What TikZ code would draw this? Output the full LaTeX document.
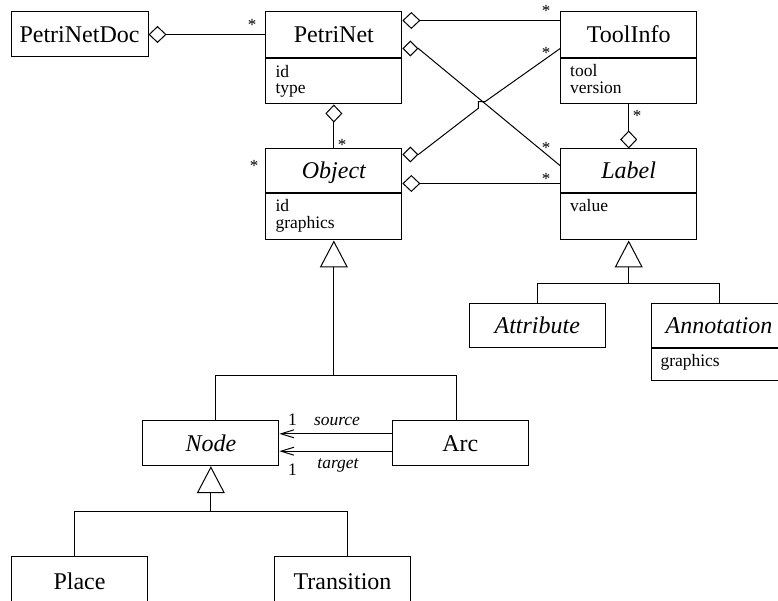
\documentclass[tikz,border=0pt]{standalone}
\usepackage{fontspec}
\setmainfont{Liberation Serif}
\usetikzlibrary{arrows.meta,calc}
\begin{document}
\begin{tikzpicture}[x=1pt,y=-1pt,line width=1pt,
  cls/.style={draw, inner sep=0pt, font=\fontsize{24}{28}\selectfont, text height=16pt, text depth=0pt, minimum width=136pt, minimum height=45pt},
  clsi/.style={cls, font=\fontsize{24}{28}\selectfont\itshape},
  comp/.style={draw, inner sep=0pt, minimum width=136pt, anchor=north},
  attr/.style={inner sep=0pt, anchor=base west, font=\fontsize{17.5}{17.5}\selectfont},
  mult/.style={inner sep=0pt, yshift=-2.7pt, font=\fontsize{17}{17}\selectfont},
  role/.style={inner sep=0pt, anchor=base, font=\fontsize{17.5}{17.5}\selectfont\itshape},
  one/.style={inner sep=0pt, anchor=base, font=\fontsize{17.5}{17.5}\selectfont},
  agg/.style={{Diamond[open,length=18pt,width=17pt]}-},
  aggs/.style={{Diamond[open,length=16pt,width=16pt]}-},
  inh/.style={-{Triangle[open,length=27pt,width=28pt]}},
  nav/.style={-{Straight Barb[length=13pt,width=8pt]}},
]
\useasboundingbox (0,0) rectangle (778,601);

% classes
\node[cls, minimum width=137pt] (doc) at (79.5,34.5) {PetriNetDoc};
\node[cls, minimum height=46pt] (pn) at (333.85,35) {PetriNet};
\node[comp, minimum height=45pt] (pnb) at (pn.south) {};
\node[attr] (pnid) at (275,77.3) {id};
\node[attr] (pntype) at (275,94) {type};

\node[cls, minimum height=46pt] (ti) at (628.7,35) {ToolInfo};
\node[comp, minimum height=45pt] (tib) at (ti.south) {};
\node[attr] (titool) at (569.7,77) {tool};
\node[attr] (tiver) at (569.7,94) {version};

\node[clsi, minimum height=44pt] (obj) at (333.85,171) {Object};
\node[comp, minimum height=46pt] (objb) at (obj.south) {};
\node[attr] (objid) at (275,211.7) {id};
\node[attr] (objgr) at (275,229) {graphics};

\node[clsi, minimum height=44pt] (lab) at (628.7,171) {Label};
\node[comp, minimum height=46pt] (labb) at (lab.south) {};
\node[attr] (labval) at (569.7,212) {value};

\node[clsi, minimum height=44.5pt] (att) at (537.3,325.25) {Attribute};
\node[clsi, minimum height=44.5pt] (ann) at (719,325.25) {Annotation};
\node[comp, minimum height=31.5pt] (annb) at (ann.south) {};
\node[attr] (anngr) at (660,366.5) {graphics};

\node[clsi] (nd) at (210.85,443.2) {Node};
\node[cls] (arc) at (460.3,443.2) {Arc};
\node[cls, minimum height=50pt] (place) at (79.5,581.7) {Place};
\node[cls, minimum height=50pt] (trans) at (342.5,581.7) {Transition};

% aggregations
\draw[agg] (doc.east) -- (doc.east -| pn.west);
\draw[agg] ($(pn.north east)+(0,9)$) -- ($(ti.north west)+(0,9)$);
\draw[aggs] ($(pn.north east)+(0,37)$) -- ($(pn.north east)+(16,37)$) -- ($(lab.north west)+(0,17.2)$);
\coordinate (hopa) at (478.3,108.3);
\coordinate (hopb) at (478.3,101.7);
\coordinate (hopc) at (485,101.7);
\draw[aggs] ($(obj.north east)+(0,6)$) -- ($(obj.north east)+(16,6)$) -- (hopa) -- (hopb) -- (hopc) -- ($(ti.north west)+(0,37)$);
\draw[agg] ($(obj.north east)+(0,35)$) -- ($(lab.north west)+(0,35)$);
\draw[agg] (pnb.south) -- (obj.north);
\draw[agg] (lab.north) -- (tib.south);

% multiplicities
\node[mult] (m1) at (252,22.7) {*};
\node[mult] (m2) at (546,8.3) {*};
\node[mult] (m3) at (546,50) {*};
\node[mult] (m4) at (546,145) {*};
\node[mult] (m5) at (546,176.7) {*};
\node[mult] (m6) at (637,113.3) {*};
\node[mult] (m7) at (342,142) {*};
\node[mult] (m8) at (254,163) {*};

% inheritance Object
\coordinate (objj) at (333.85,375);
\coordinate (ndj) at (215,375);
\coordinate (arcj) at (456,375);
\draw[inh] (objj) -- (objb.south);
\draw (ndj |- nd.north) -- (ndj) -- (arcj) -- (arcj |- arc.north);

% inheritance Node
\coordinate (nodej) at (210.85,511);
\coordinate (plj) at (74.7,511);
\coordinate (trj) at (347.3,511);
\draw[inh] (nodej) -- (nd.south);
\draw (plj |- place.north) -- (plj) -- (trj) -- (trj |- trans.north);

% inheritance Label
\coordinate (labj) at (628.7,284);
\coordinate (attj) at (537.3,284);
\coordinate (annj) at (719,284);
\draw[inh] (labj) -- (labb.south);
\draw (attj |- att.north) -- (attj) -- (annj) -- (annj |- ann.north);

% navigable associations
\draw[nav] ($(arc.north west)+(0,13.6)$) -- ($(nd.north east)+(0,13.6)$);
\draw[nav] ($(arc.north west)+(0,31)$) -- ($(nd.north east)+(0,31)$);
\node[one] (o1) at (292.5,425) {1};
\node[role] (src) at (337,425) {source};
\node[one] (o2) at (292.5,475) {1};
\node[role] (tgt) at (338,468.3) {target};
\end{tikzpicture}
\end{document}
